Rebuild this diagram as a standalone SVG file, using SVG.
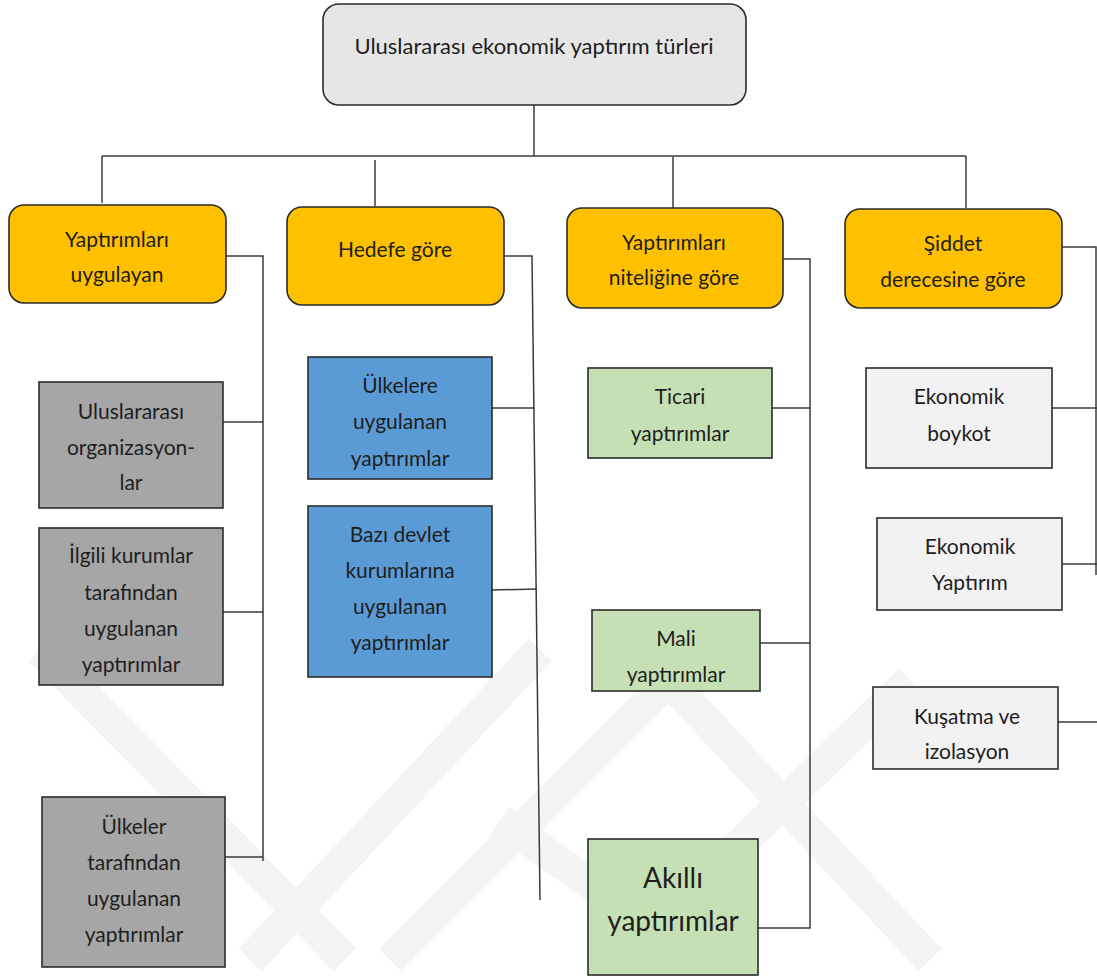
<svg xmlns="http://www.w3.org/2000/svg" width="1097" height="979" viewBox="0 0 1097 979">
<style>
text{font-family:Lato,"Liberation Sans",sans-serif;font-size:21px;fill:#1e1e1e;text-anchor:middle;dominant-baseline:central}
.box{stroke:#2b2b2b;stroke-width:1.6}
.root{fill:#e6e6e6}
.cat{fill:#ffc000}
.gray{fill:#a6a6a6}
.blue{fill:#5b9bd5}
.green{fill:#c5e0b4}
.light{fill:#f2f2f2}
.wm{stroke:#f4f4f4;stroke-width:32;fill:none;stroke-linecap:butt}
#connectors path,#connectors line{stroke:#3a3a3a;stroke-width:1.5;fill:none}
</style>
<rect width="1097" height="979" fill="#ffffff"/>
<g id="watermark">
<line class="wm" x1="40" y1="650" x2="345" y2="960"/>
<line class="wm" x1="540" y1="650" x2="250" y2="960"/>
<line class="wm" x1="700" y1="650" x2="390" y2="960"/>
<line class="wm" x1="640" y1="650" x2="930" y2="960"/>
<line class="wm" x1="910" y1="680" x2="620" y2="960"/>
<line class="wm" x1="500" y1="820" x2="700" y2="960"/>
</g>
<g id="connectors">
<line x1="534" y1="105" x2="534" y2="156"/>
<line x1="102" y1="156" x2="966" y2="156"/>
<line x1="102" y1="156" x2="102" y2="203"/>
<line x1="375" y1="160" x2="375" y2="206"/>
<line x1="673" y1="157" x2="673" y2="208"/>
<line x1="966" y1="156" x2="966" y2="208"/>
<path d="M226 256 H263 V861"/>
<line x1="223" y1="422" x2="263" y2="422"/>
<line x1="223" y1="612" x2="263" y2="612"/>
<line x1="225" y1="857" x2="263" y2="857"/>
<path d="M504 256 H532 L540 900"/>
<line x1="492" y1="408" x2="534" y2="408"/>
<line x1="492" y1="590" x2="537" y2="589"/>
<path d="M783 259 H810 V928 H758"/>
<line x1="772" y1="408" x2="810" y2="408"/>
<line x1="760" y1="643" x2="810" y2="643"/>
<path d="M1062 247 H1096 V575"/>
<line x1="1052" y1="408" x2="1097" y2="408"/>
<line x1="1062" y1="564" x2="1097" y2="564"/>
<line x1="1058" y1="722" x2="1097" y2="722"/>
</g>
<g id="root">
<rect class="box root" x="323" y="4" width="423" height="101" rx="16"/>
<text x="534" y="45" style="font-size:22px">Uluslararası ekonomik yaptırım türleri</text>
</g>
<g id="cat-uygulayan">
<rect class="box cat" x="9" y="205" width="217" height="98" rx="15"/>
<text x="117" y="238">Yaptırımları</text>
<text x="117" y="273">uygulayan</text>
</g>
<g id="cat-hedef">
<rect class="box cat" x="287" y="207" width="217" height="98" rx="15"/>
<text x="395" y="248">Hedefe göre</text>
</g>
<g id="cat-nitelik">
<rect class="box cat" x="567" y="208" width="216" height="100" rx="15"/>
<text x="674" y="241">Yaptırımları</text>
<text x="674" y="276">niteliğine göre</text>
</g>
<g id="cat-siddet">
<rect class="box cat" x="845" y="209" width="217" height="99" rx="15"/>
<text x="953" y="242">Şiddet</text>
<text x="953" y="278">derecesine göre</text>
</g>
<g id="n-uluslararasi">
<rect class="box gray" x="39" y="382" width="184" height="126"/>
<text x="131" y="410">Uluslararası</text>
<text x="131" y="446">organizasyon-</text>
<text x="131" y="481">lar</text>
</g>
<g id="n-ilgili">
<rect class="box gray" x="39" y="528" width="184" height="157"/>
<text x="131" y="554">İlgili kurumlar</text>
<text x="131" y="591">tarafından</text>
<text x="131" y="627">uygulanan</text>
<text x="131" y="663">yaptırımlar</text>
</g>
<g id="n-ulkeler">
<rect class="box gray" x="42" y="797" width="183" height="170"/>
<text x="134" y="825">Ülkeler</text>
<text x="134" y="861">tarafından</text>
<text x="134" y="897">uygulanan</text>
<text x="134" y="933">yaptırımlar</text>
</g>
<g id="n-ulkelere">
<rect class="box blue" x="308" y="357" width="184" height="122"/>
<text x="400" y="384">Ülkelere</text>
<text x="400" y="420">uygulanan</text>
<text x="400" y="457">yaptırımlar</text>
</g>
<g id="n-bazi">
<rect class="box blue" x="308" y="506" width="184" height="171"/>
<text x="400" y="533">Bazı devlet</text>
<text x="400" y="569">kurumlarına</text>
<text x="400" y="605">uygulanan</text>
<text x="400" y="641">yaptırımlar</text>
</g>
<g id="n-ticari">
<rect class="box green" x="588" y="368" width="184" height="90"/>
<text x="680" y="395">Ticari</text>
<text x="680" y="432">yaptırımlar</text>
</g>
<g id="n-mali">
<rect class="box green" x="592" y="610" width="168" height="81"/>
<text x="676" y="637">Mali</text>
<text x="676" y="673">yaptırımlar</text>
</g>
<g id="n-akilli">
<rect class="box green" x="588" y="839" width="170" height="136"/>
<text x="673" y="877" style="font-size:28px">Akıllı</text>
<text x="673" y="920" style="font-size:28px">yaptırımlar</text>
</g>
<g id="n-boykot">
<rect class="box light" x="866" y="368" width="186" height="100"/>
<text x="959" y="395">Ekonomik</text>
<text x="959" y="432">boykot</text>
</g>
<g id="n-ekonomik">
<rect class="box light" x="877" y="518" width="185" height="92"/>
<text x="970" y="545">Ekonomik</text>
<text x="970" y="581">Yaptırım</text>
</g>
<g id="n-kusatma">
<rect class="box light" x="873" y="687" width="185" height="82"/>
<text x="967" y="715">Kuşatma ve</text>
<text x="967" y="750">izolasyon</text>
</g>
</svg>
